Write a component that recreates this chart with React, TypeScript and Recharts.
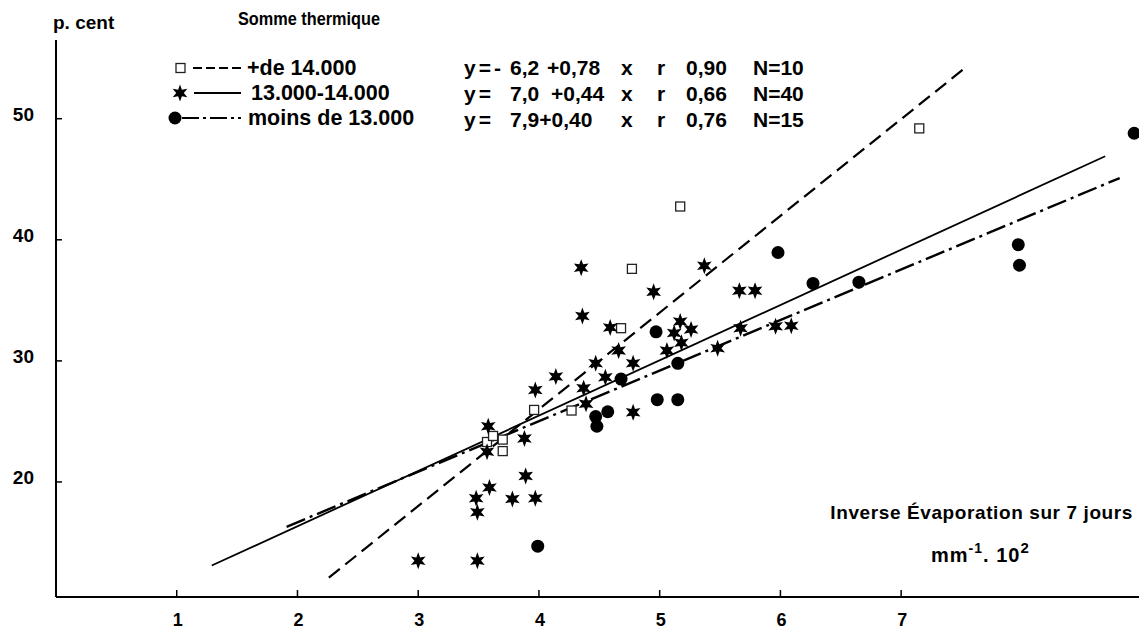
import React from 'react';
import { ScatterChart, Scatter, XAxis, YAxis, ReferenceLine } from 'recharts';

// ---- data ----
const xTicks = [1, 2, 3, 4, 5, 6, 7];
const yTicks = [20, 30, 40, 50];

// "+de 14.000" (open squares)
const squarePts = [
  { x: 5.17, y: 42.75 }, { x: 4.77, y: 37.6 }, { x: 4.68, y: 32.7 }, { x: 3.96, y: 25.95 },
  { x: 4.27, y: 25.9 }, { x: 3.7, y: 23.5 }, { x: 3.7, y: 22.55 }, { x: 7.15, y: 49.2 },
  { x: 3.57, y: 23.3 }, { x: 3.62, y: 23.8 },
];

// "13.000-14.000" (stars)
const starPts = [
  { x: 4.35, y: 37.7 }, { x: 5.37, y: 37.85 }, { x: 4.95, y: 35.7 }, { x: 5.66, y: 35.8 },
  { x: 5.79, y: 35.8 }, { x: 4.36, y: 33.7 }, { x: 4.59, y: 32.75 }, { x: 5.17, y: 33.25 },
  { x: 5.12, y: 32.3 }, { x: 5.26, y: 32.6 }, { x: 5.18, y: 31.5 }, { x: 4.66, y: 30.85 },
  { x: 5.06, y: 30.85 }, { x: 4.78, y: 29.8 }, { x: 5.48, y: 31.05 }, { x: 4.47, y: 29.8 },
  { x: 4.14, y: 28.7 }, { x: 4.55, y: 28.65 }, { x: 3.97, y: 27.6 }, { x: 4.37, y: 27.75 },
  { x: 4.39, y: 26.45 }, { x: 4.78, y: 25.75 }, { x: 3.58, y: 24.6 }, { x: 3.88, y: 23.6 },
  { x: 3.57, y: 22.5 }, { x: 3.89, y: 20.5 }, { x: 3.59, y: 19.55 }, { x: 3.48, y: 18.65 },
  { x: 3.78, y: 18.6 }, { x: 3.97, y: 18.65 }, { x: 3.49, y: 17.5 }, { x: 3.0, y: 13.5 },
  { x: 3.49, y: 13.5 }, { x: 5.67, y: 32.7 }, { x: 5.96, y: 32.85 }, { x: 6.09, y: 32.9 },
];

// "moins de 13.000" (filled dots)
const dotPts = [
  { x: 4.97, y: 32.4 }, { x: 5.15, y: 29.8 }, { x: 4.68, y: 28.5 }, { x: 4.98, y: 26.8 },
  { x: 5.15, y: 26.8 }, { x: 4.57, y: 25.8 }, { x: 4.47, y: 25.4 }, { x: 4.48, y: 24.6 },
  { x: 3.99, y: 14.7 }, { x: 5.98, y: 38.95 }, { x: 6.27, y: 36.4 }, { x: 6.65, y: 36.5 },
  { x: 7.97, y: 39.6 }, { x: 7.98, y: 37.9 }, { x: 8.93, y: 48.8 },
];

// regression lines (end points)
const lineHigh = [{ x: 2.26, y: 12.1 }, { x: 7.53, y: 54.2 }];
const lineMid = [{ x: 1.29, y: 13.1 }, { x: 8.69, y: 46.9 }];
const lineLow = [{ x: 1.91, y: 16.3 }, { x: 8.81, y: 45.1 }];

const legendLabels = ['+de 14.000', '13.000-14.000', 'moins de 13.000'];
const eqHead = ['y=-', 'y=', 'y='];
const eqA = ['6,2', '7,0', '7,9+0,40'];
const eqB = ['+0,78', '+0,44', ''];
const eqR = ['0,90', '0,66', '0,76'];
const eqN = ['N=10', 'N=40', 'N=15'];

const FONT = '"Liberation Sans", Arial, sans-serif';

function starPath(cx: number, cy: number, R: number, r: number) {
  const pts: string[] = [];
  for (let i = 0; i < 12; i++) {
    const a = -Math.PI / 2 + (i * Math.PI) / 6;
    const rad = i % 2 === 0 ? R : r;
    pts.push(`${(cx + rad * Math.cos(a)).toFixed(2)},${(cy + rad * Math.sin(a)).toFixed(2)}`);
  }
  return pts.join(' ');
}

const StarShape = (p: any) => <polygon points={starPath(p.cx, p.cy, 8.5, 3.8)} fill="#000" />;
const SquareShape = (p: any) => (
  <rect x={p.cx - 4.5} y={p.cy - 4.5} width={9} height={9} fill="#fff" stroke="#222" strokeWidth={1.3} />
);
const DotShape = (p: any) => <circle cx={p.cx} cy={p.cy} r={6.5} fill="#000" />;

const XTick = (p: any) => (
  <g>
    <line x1={p.x} x2={p.x} y1={p.y} y2={p.y - 7} stroke="#000" strokeWidth={1.5} />
    <text x={p.x + 1} y={p.y + 29} textAnchor="middle" fontFamily={FONT} fontWeight="bold" fontSize={18} fill="#000">
      {p.payload.value}
    </text>
  </g>
);

const YTick = (p: any) => (
  <g>
    <line x1={p.x} x2={p.x + 6} y1={p.y} y2={p.y} stroke="#000" strokeWidth={1.5} />
    <text x={p.x - 22} y={p.y + 2} textAnchor="end" fontFamily={FONT} fontWeight="bold" fontSize={19} fill="#000">
      {p.payload.value}
    </text>
  </g>
);

const W = 1139;
const H = 629;

export default function App() {
  const rowY = [68, 93, 118];
  return (
    <div style={{ position: 'absolute', left: 0, top: 0, width: W, height: H, background: '#fff' }}>
      <ScatterChart width={W} height={H} margin={{ top: 40, right: 0, bottom: 0, left: 0 }}>
        <XAxis
          type="number"
          dataKey="x"
          domain={[0, 8.97]}
          ticks={xTicks}
          height={32}
          tickSize={0}
          tickMargin={0}
          tickLine={false}
          axisLine={{ stroke: '#000', strokeWidth: 2 }}
          tick={<XTick />}
          allowDataOverflow
        />
        <YAxis
          type="number"
          dataKey="y"
          domain={[10.5, 56.5]}
          ticks={yTicks}
          width={56}
          tickSize={0}
          tickMargin={0}
          tickLine={false}
          axisLine={{ stroke: '#000', strokeWidth: 2 }}
          tick={<YTick />}
          allowDataOverflow
        />
        <ReferenceLine segment={lineHigh} stroke="#000" strokeWidth={2.2} strokeDasharray="14 7" ifOverflow="visible" />
        <ReferenceLine segment={lineMid} stroke="#000" strokeWidth={1.8} ifOverflow="visible" />
        <ReferenceLine segment={lineLow} stroke="#000" strokeWidth={2.4} strokeDasharray="20 5 3 5" ifOverflow="visible" />
        <Scatter data={squarePts} shape={<SquareShape />} isAnimationActive={false} />
        <Scatter data={starPts} shape={<StarShape />} isAnimationActive={false} />
        <Scatter data={dotPts} shape={<DotShape />} isAnimationActive={false} />
      </ScatterChart>
      <svg width={W} height={H} style={{ position: 'absolute', left: 0, top: 0, pointerEvents: 'none' }}>
        <g fontFamily={FONT} fontWeight="bold" fill="#000">
          <text x={53} y={29} fontSize={19}>p. cent</text>
          <text x={238} y={25} fontSize={18} textLength={142} lengthAdjust="spacingAndGlyphs">Somme thermique</text>
          {/* legend symbols */}
          <rect x={176} y={rowY[0] - 4.5} width={9} height={9} fill="#fff" stroke="#222" strokeWidth={1.3} />
          <line x1={193} x2={241} y1={rowY[0]} y2={rowY[0]} stroke="#000" strokeWidth={2.2} strokeDasharray="9 4" />
          <polygon points={starPath(180, rowY[1], 8.5, 3.8)} fill="#000" />
          <line x1={194} x2={241} y1={rowY[1]} y2={rowY[1]} stroke="#000" strokeWidth={2} />
          <circle cx={175} cy={rowY[2]} r={6.5} fill="#000" />
          <line x1={182} x2={241} y1={rowY[2]} y2={rowY[2]} stroke="#000" strokeWidth={2.2} strokeDasharray="17 4 3 4" />
          {legendLabels.map((t, i) => (
            <text key={t} x={i === 0 ? 247 : i === 1 ? 251 : 248} y={rowY[i] + 7} fontSize={21.5}>{t}</text>
          ))}
          {eqHead.map((t, i) => (
            <text key={'e' + i} y={rowY[i] + 7 + i} fontSize={21}>
              <tspan x={464} letterSpacing={3}>{t}</tspan>
              <tspan x={510}>{eqA[i]}</tspan>
              {eqB[i] ? <tspan x={i === 0 ? 547 : 551}>{eqB[i]}</tspan> : null}
              <tspan x={621}>x</tspan>
              <tspan x={657}>r</tspan>
              <tspan x={686}>{eqR[i]}</tspan>
              <tspan x={753}>{eqN[i]}</tspan>
            </text>
          ))}
          <text x={1133} y={519} fontSize={19} letterSpacing={0.6} textAnchor="end">Inverse Évaporation sur 7 jours</text>
          <text x={931} y={562} fontSize={20} letterSpacing={1}>
            mm<tspan dy={-9} fontSize={14}>-1</tspan>
            <tspan dy={9}>. 10</tspan>
            <tspan dy={-9} fontSize={15}>2</tspan>
          </text>
        </g>
      </svg>
    </div>
  );
}
